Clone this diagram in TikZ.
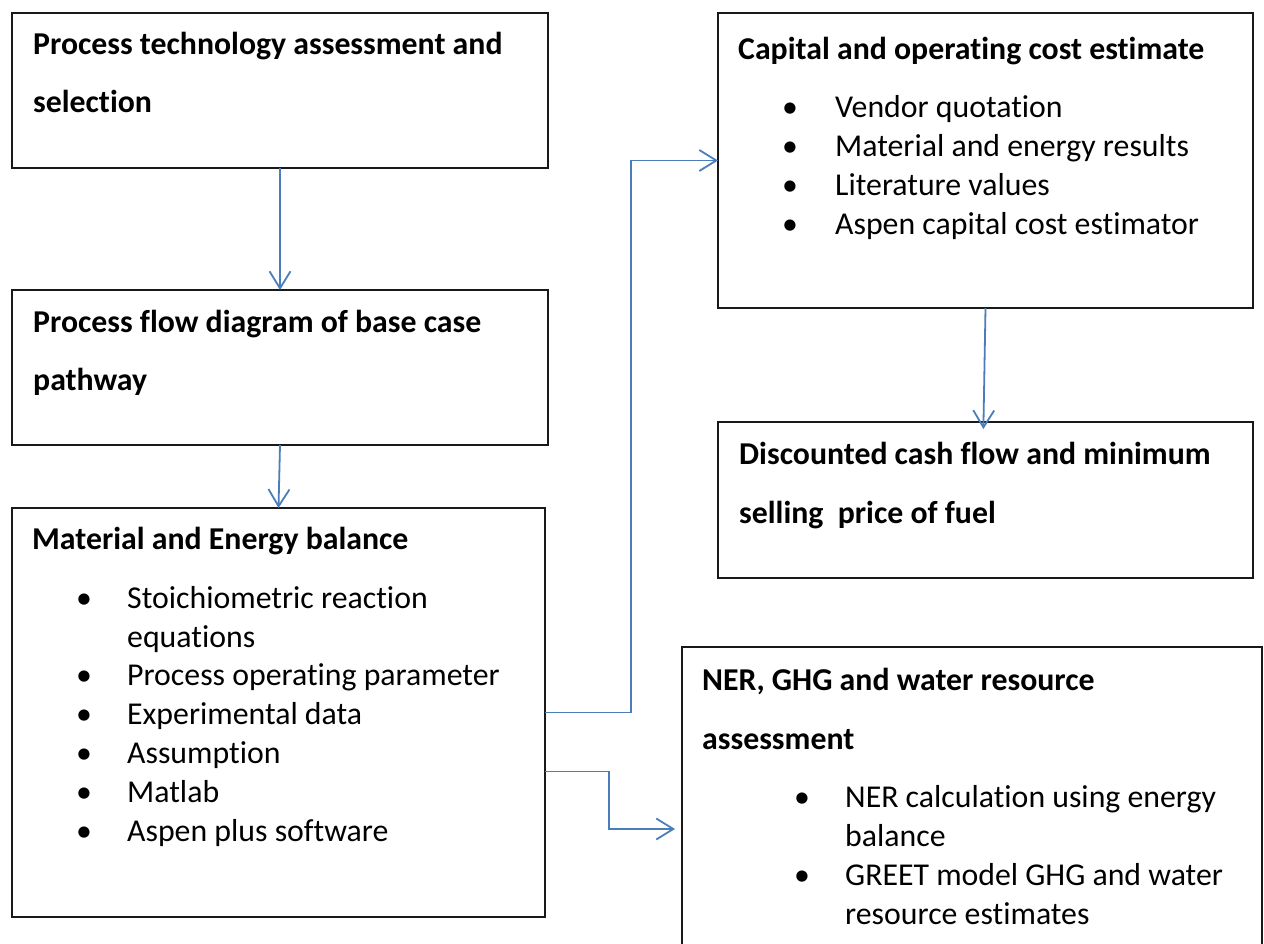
\documentclass[tikz,border=0pt]{standalone}
\usepackage{fontspec}
\setmainfont{Carlito}[RawFeature={-liga;-clig;-calt;-dlig;-rlig}]
\usetikzlibrary{arrows.meta,calc}
\definecolor{conn}{RGB}{74,126,187}
\begin{document}
\begin{tikzpicture}[x=1pt,y=-1pt,
  box/.style={draw=black!90, line width=2pt, inner sep=0pt, outer sep=0pt, anchor=north west},
  head/.style={anchor=base west, inner sep=0pt, font=\fontsize{31.8}{39}\selectfont\bfseries},
  item/.style={anchor=base west, inner sep=0pt, font=\fontsize{31.8}{39}\selectfont},
  bul/.style={anchor=base, inner sep=0pt, font=\fontsize{31.8}{39}\selectfont},
  arr/.style={draw=conn, line width=1.8pt, -{Straight Barb[length=17pt,width=21pt]}}]
\useasboundingbox (0,0) rectangle (1264,944);
\fill[white] (0,0) rectangle (1264,944);
\clip (0,0) rectangle (1264,944);

% boxes
\node[box, minimum width=536pt, minimum height=155pt] (b1) at (12,13) {};
\node[box, minimum width=536pt, minimum height=155pt] (b2) at (12,290) {};
\node[box, minimum width=533pt, minimum height=409pt] (b3) at (12,508) {};
\node[box, minimum width=535pt, minimum height=295pt] (b4) at (718,13) {};
\node[box, minimum width=535pt, minimum height=156pt] (b5) at (718,422) {};
\node[box, minimum width=580pt, minimum height=364pt] (b6) at (682,647) {};

% box 1
\node[head] (t1a) at (33,55) {Process technology assessment and};
\node[head] (t1b) at (33,113) {selection};
% box 2
\node[head] (t2a) at (33,332) {Process flow diagram of base case};
\node[head] (t2b) at (33,390) {pathway};
% box 3
\node[head] (t3h) at (32,549) {Material and Energy balance};
\node[bul] (u31) at (84,608) {•};
\node[item] (i31a) at (127,608) {Stoichiometric reaction};
\node[item] (i31b) at (127,647) {equations};
\node[bul] (u32) at (84,685) {•};
\node[item] (i32) at (127,685) {Process operating parameter};
\node[bul] (u33) at (84,724) {•};
\node[item] (i33) at (127,724) {Experimental data};
\node[bul] (u34) at (84,763) {•};
\node[item] (i34) at (127,763) {Assumption};
\node[bul] (u35) at (84,802) {•};
\node[item] (i35) at (127,802) {Matlab};
\node[bul] (u36) at (84,841) {•};
\node[item] (i36) at (127,841) {Aspen plus software};
% box 4
\node[head] (t4h) at (738,60) {Capital and operating cost estimate};
\node[bul] (u41) at (790,118) {•};
\node[item] (i41) at (835,118) {Vendor quotation};
\node[bul] (u42) at (790,157) {•};
\node[item] (i42) at (835,157) {Material and energy results};
\node[bul] (u43) at (790,196) {•};
\node[item] (i43) at (835,196) {Literature values};
\node[bul] (u44) at (790,235) {•};
\node[item] (i44) at (835,235) {Aspen capital cost estimator};
% box 5
\node[head] (t5a) at (739,464) {Discounted cash flow and minimum};
\node[head] (t5b) at (739,523) {selling~~price of fuel};
% box 6
\node[head] (t6a) at (702,690) {NER, GHG and water resource};
\node[head] (t6b) at (702,749) {assessment};
\node[bul] (u61) at (802,807) {•};
\node[item] (i61a) at (845,807) {NER calculation using energy};
\node[item] (i61b) at (845,846) {balance};
\node[bul] (u62) at (802,885) {•};
\node[item] (i62a) at (845,885) {GREET model GHG and water};
\node[item] (i62b) at (845,924) {resource estimates};

% connectors
\draw[arr] (b1.south) -- (b2.north);
\draw[arr] (b2.south) -- (b3.north);
\draw[arr, shorten >=-7pt] (b4.south) -- ([xshift=-2pt]b5.north);
\draw[arr] (b3.east) -- ++(86,0) |- (b4.west);
\draw[arr, shorten >=7pt] ([yshift=-59pt]b3.east) -- ++(64,0) |- (b6.west);
\end{tikzpicture}
\end{document}
